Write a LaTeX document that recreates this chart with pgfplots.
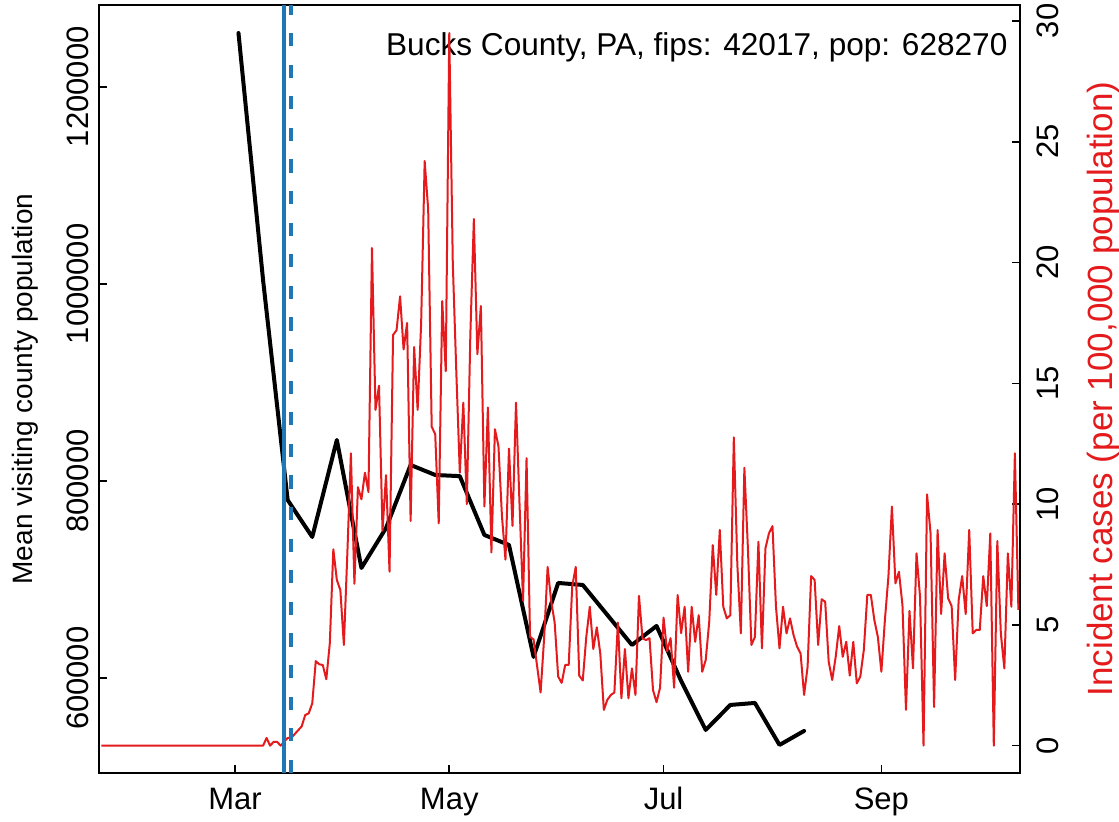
\documentclass[border=0pt]{standalone}
\usepackage{pgfplots}
\pgfplotsset{compat=1.18}
\usepackage{fontspec}
\setmainfont{Liberation Sans}
\definecolor{cblue}{RGB}{31,120,180}
\definecolor{cred}{RGB}{228,26,28}
\pgfplotsset{
  common/.style={
    at={(49.5pt,24.5pt)}, anchor=south west,
    scale only axis, width=460.5pt, height=384pt,
    xmin=21.3, xmax=283.46,
    clip=false,
    tick align=inside, major tick length=4.2pt,
    axis line style={line width=0.8pt}, every tick/.style={black, line width=0.8pt},
    tick label style={font=\fontsize{15.5}{18}\selectfont},
    /pgf/number format/assume math mode=true,
  }
}
\begin{document}
\begin{tikzpicture}
\useasboundingbox (0,0) rectangle (559.5pt,411pt);
\begin{axis}[common,
  ymin=503900, ymax=1282900,
  xtick={60,121,182,244}, xticklabels={Mar,May,Jul,Sep},
  xtick pos=left, ytick pos=left,
  ytick={600000,800000,1000000,1200000},
  scaled y ticks=false,
  yticklabel style={/pgf/number format/fixed,/pgf/number format/1000 sep={}, xshift=-5.5pt, rotate=90, anchor=base},
  xticklabel style={anchor=base, yshift=-18.5pt},
  every axis y label/.style={at={(rel axis cs:-0.0727,0.5)}, rotate=90, anchor=base, font=\fontsize{14}{16}\selectfont},
  ylabel={Mean visiting county population},
]
\addplot[black, line width=2pt, line join=round, line cap=round] coordinates {
(61,1254460) (68,1003960) (75,780830) (82,743300) (89,841680) (96,711870)
(103,752440) (110,816330) (117,806190) (124,805000) (131,745340) (138,735190)
(145,621610) (152,696660) (159,694620) (166,664200) (173,633770) (180,653050)
(187,597260) (194,547570) (201,572920) (208,574950) (215,532350) (222,546560)
};
\node[anchor=base east, font=\fontsize{15.8}{18}\selectfont, inner sep=0pt] at (rel axis cs:0.9868,0.934) {Bucks County, PA, fips: 42017, pop: 628270};
\end{axis}
\begin{axis}[common,
  ymin=-1.13, ymax=30.66,
  axis x line=none, axis y line*=right,
  ytick={0,5,...,30},
  yticklabel style={xshift=19pt, rotate=90, anchor=base},
  every axis y label/.style={at={(rel axis cs:1.0999,0.5)}, rotate=90, anchor=base, font=\fontsize{17.5}{20}\selectfont, text=cred},
  ylabel={Incident cases (per 100,000 population)},
]
\addplot[cred, line width=1pt, line join=round] coordinates {
(22,0) (23,0) (24,0) (25,0) (26,0) (27,0) (28,0) (29,0) (30,0) (31,0) (32,0) (33,0) (34,0) (35,0)
(36,0) (37,0) (38,0) (39,0) (40,0) (41,0) (42,0) (43,0) (44,0) (45,0) (46,0) (47,0) (48,0) (49,0)
(50,0) (51,0) (52,0) (53,0) (54,0) (55,0) (56,0) (57,0) (58,0) (59,0) (60,0) (61,0) (62,0) (63,0)
(64,0) (65,0) (66,0) (67,0) (68,0) (69,0.32) (70,0) (71,0.16) (72,0.16) (73,0) (74,0.16) (75,0.32)
(76,0.32) (77,0.48) (78,0.64) (79,0.80) (80,1.27) (81,1.34) (82,1.75) (83,3.50) (84,3.37) (85,3.34)
(86,2.75) (87,4.24) (88,8.13) (89,6.86) (90,6.44) (91,4.17) (92,8.0) (93,12.1) (94,6.7) (95,10.7)
(96,10.2) (97,11.3) (98,10.5) (99,20.6) (100,13.9) (101,14.9) (102,8.9) (103,11.2) (104,7.2) (105,17.0)
(106,17.2) (107,18.6) (108,16.4) (109,17.5) (110,9.3) (111,16.5) (112,13.9) (113,17.5) (114,24.2) (115,22.2)
(116,13.2) (117,12.9) (118,9.2) (119,18.4) (120,15.5) (121,29.5) (122,20.0) (123,15.5) (124,11.3) (125,14.2)
(126,10.0) (127,17.0) (128,21.8) (129,16.2) (130,18.2) (131,9.9) (132,14.0) (133,8.0) (134,13.1) (135,12.4)
(136,9.5) (137,7.7) (138,12.3) (139,9.1) (140,14.2) (141,10.0) (142,6.0) (143,11.9) (144,4.5) (145,4.4)
(146,3.3) (147,2.2) (148,4.45) (149,7.4) (150,6.0) (151,5.1) (152,2.86) (153,2.6) (154,3.34) (155,3.34)
(156,6.6) (157,7.4) (158,2.9) (159,2.7) (160,4.5) (161,5.75) (162,4.0) (163,4.9) (164,3.8) (165,1.48)
(166,1.9) (167,2.1) (168,2.2) (169,5.1) (170,1.96) (171,4.0) (172,1.96) (173,3.2) (174,2.1) (175,6.2)
(176,4.45) (177,4.37) (178,4.45) (179,2.3) (180,1.8) (181,2.4) (182,5.3) (183,3.9) (184,4.45) (185,2.4)
(186,6.24) (187,4.66) (188,5.75) (189,3.06) (190,5.75) (191,4.3) (192,5.4) (193,3.06) (194,3.55) (195,5.13)
(196,8.3) (197,6.24) (198,8.93) (199,5.75) (200,5.27) (201,5.4) (202,12.76) (203,7.5) (204,4.65) (205,11.5)
(206,8.2) (207,4.17) (208,4.5) (209,8.44) (210,4.03) (211,8.17) (212,8.79) (213,9.09) (214,5.75) (215,4.03)
(216,5.75) (217,4.65) (218,5.27) (219,4.58) (220,4.1) (221,3.82) (222,2.1) (223,3.27) (224,7.02) (225,6.86)
(226,4.17) (227,6.06) (228,5.96) (229,3.48) (230,2.72) (231,3.68) (232,4.95) (233,3.68) (234,4.3) (235,2.9)
(236,4.3) (237,2.58) (238,2.86) (239,3.96) (240,6.24) (241,6.24) (242,5.2) (243,4.5) (244,3.06) (245,5.2)
(246,7.0) (247,9.9) (248,6.72) (249,7.2) (250,5.82) (251,1.48) (252,5.58) (253,3.2) (254,7.96) (255,6.17)
(256,0) (257,10.4) (258,8.79) (259,1.6) (260,8.93) (261,5.45) (262,7.96) (263,6.1) (264,5.78) (265,2.72)
(266,6.03) (267,7.02) (268,5.45) (269,8.93) (270,4.65) (271,4.79) (272,4.79) (273,7.02) (274,5.78) (275,8.79)
(276,0) (277,8.47) (278,4.65) (279,3.2) (280,7.96) (281,5.75) (282,12.1) (283,5.62)
};
\addplot[cblue, line width=2pt] coordinates {(74,-1.13) (74,30.66)};
\addplot[cblue, line width=2pt, dash pattern=on 6.6pt off 9.2pt] coordinates {(76,-1.13) (76,30.66)};
\end{axis}
\end{tikzpicture}
\end{document}
